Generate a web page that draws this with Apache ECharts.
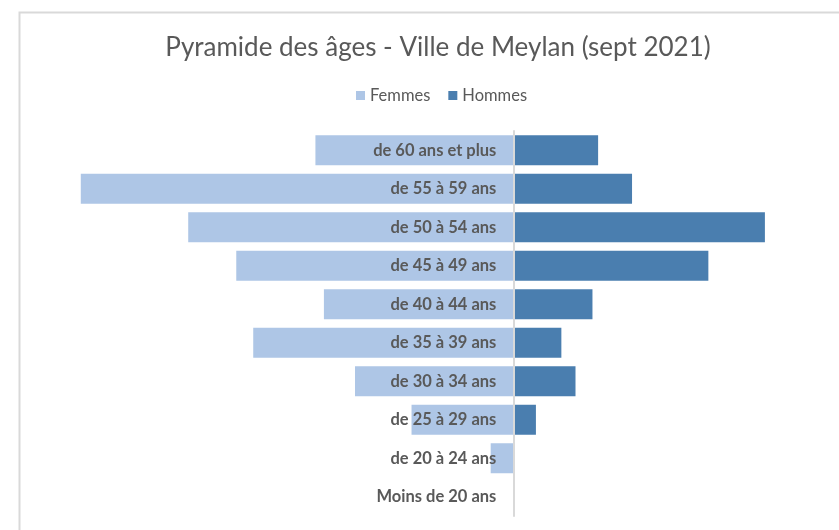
<!DOCTYPE html>
<html>
<head>
<meta charset="utf-8">
<script src="https://cdn.jsdelivr.net/npm/echarts@6/dist/echarts.min.js"></script>
<style>
  html, body { margin: 0; padding: 0; background: #fff; }
  #main { width: 839px; height: 530px; }
</style>
</head>
<body>
<div id="main"></div>
<script>
// age groups, top to bottom
const ageGroups = [
  'de 60 ans et plus', 'de 55 à 59 ans', 'de 50 à 54 ans', 'de 45 à 49 ans',
  'de 40 à 44 ans', 'de 35 à 39 ans', 'de 30 à 34 ans', 'de 25 à 29 ans',
  'de 20 à 24 ans', 'Moins de 20 ans'
];
// share of staff (%)
const femmes = [7.0, 15.3, 11.5, 9.8, 6.7, 9.2, 5.6, 3.6, 0.8, 0];
const hommes = [3.0, 4.2, 8.9, 6.9, 2.8, 1.7, 2.2, 0.8, 0, 0];

const xMin = -16;
const xMax = 10;

const dom = document.getElementById('main');
const myChart = echarts.init(dom);
const font = 'Lato, "Open Sans", sans-serif';

const gridLeft = 61;
const gridRight = 43;
// move the category axis (line + labels) onto x = 0
const zeroX = (839 - gridLeft - gridRight) * (-xMin) / (xMax - xMin);

const option = {
  animation: false,
  textStyle: { fontFamily: font },
  graphic: [{
    type: 'rect',
    left: 17, top: 10,
    shape: { width: 840, height: 540 },
    style: { fill: 'none', stroke: '#d9d9d9', lineWidth: 2 },
    silent: true
  }],
  title: {
    text: 'Pyramide des âges - Ville de Meylan (sept 2021)',
    left: 433, top: 30, textAlign: 'center',
    textStyle: { fontFamily: font, fontSize: 26, fontWeight: 'normal', color: '#595959' }
  },
  legend: {
    left: 351, top: 82,
    itemWidth: 9, itemHeight: 9, itemGap: 18,
    icon: 'rect',
    textStyle: { fontFamily: font, fontSize: 16.5, color: '#595959' },
    data: ['Femmes', 'Hommes']
  },
  grid: {
    left: gridLeft, right: gridRight, top: 131, bottom: 14,
    containLabel: false, outerBoundsMode: 'none'
  },
  xAxis: {
    type: 'value', min: xMin, max: xMax,
    show: false
  },
  yAxis: {
    type: 'category',
    data: ageGroups,
    inverse: true,
    position: 'left',
    offset: -zeroX,
    z: 10,
    axisLine: { onZero: false, lineStyle: { color: '#d9d9d9', width: 2 } },
    axisTick: { show: false },
    axisLabel: {
      margin: 17,
      fontFamily: font, fontSize: 16.5, fontWeight: 'bold', color: '#595959'
    }
  },
  series: [
    {
      name: 'Femmes', type: 'bar',
      data: femmes.map(v => -v),
      barWidth: 30, barGap: '-100%',
      itemStyle: { color: '#aec6e6' }
    },
    {
      name: 'Hommes', type: 'bar',
      data: hommes,
      barWidth: 30,
      itemStyle: { color: '#4a7eaf' }
    }
  ]
};

myChart.setOption(option);
window.addEventListener('resize', myChart.resize);
</script>
</body>
</html>
